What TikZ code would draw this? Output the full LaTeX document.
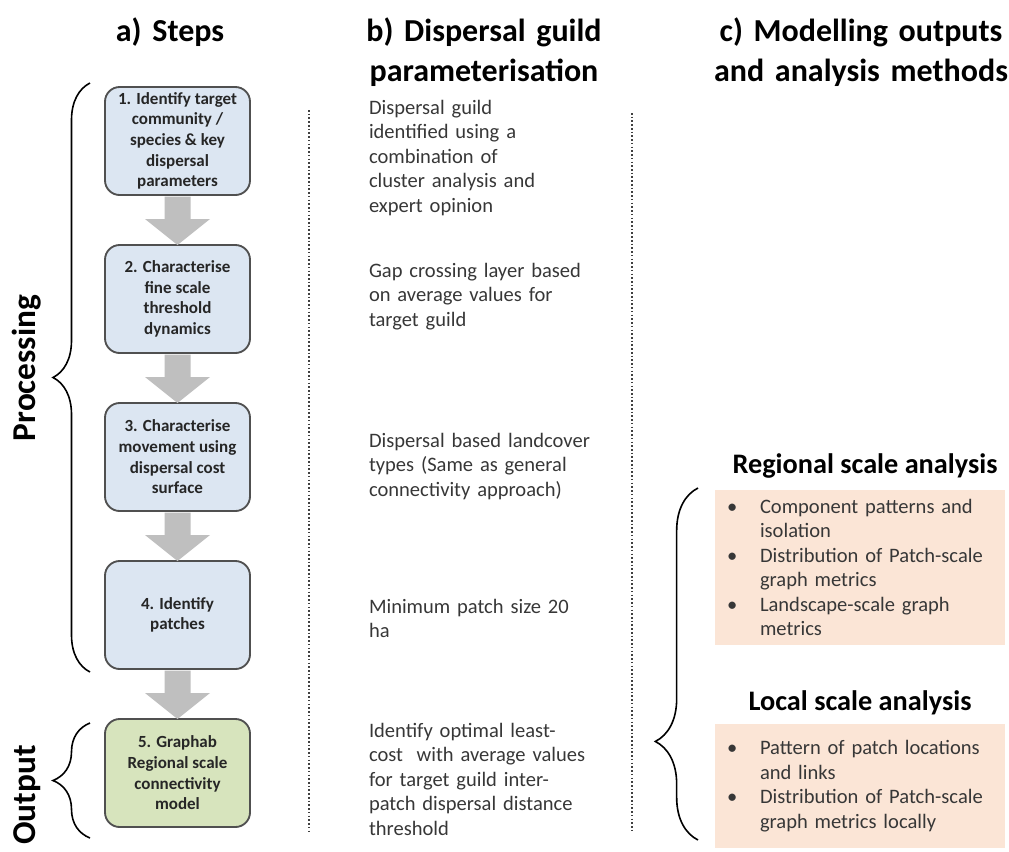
\documentclass[tikz,border=0pt]{standalone}
\usepackage{fontspec}
\setmainfont{Carlito}
\usepackage{tikz}
\usetikzlibrary{calc,decorations.pathreplacing,positioning}
\definecolor{stepblue}{RGB}{220,230,242}
\definecolor{stepgreen}{RGB}{215,228,189}
\definecolor{stepedge}{RGB}{80,80,80}
\definecolor{arrowgrey}{RGB}{191,191,191}
\definecolor{peach}{RGB}{251,229,214}
\definecolor{textgrey}{RGB}{55,55,55}
\newcommand{\bpt}{\makebox[24.75pt][l]{\textbullet}}
\newcommand{\bind}{\hspace*{24.75pt}}

\begin{document}
\begin{tikzpicture}
              [x=0.75pt,y=-0.75pt,
                every node/.style={inner sep=0pt,outer sep=0pt},
                title/.style={font=\fontsize{24}{30}\selectfont\bfseries,align=center,text width=260pt,anchor=base},
                side/.style={font=\fontsize{25}{30}\selectfont\bfseries,rotate=90,anchor=base},
                stepbox/.style={draw=stepedge,line width=1.4pt,rounded corners=11pt,fill=stepblue,
                  minimum width=108.75pt,minimum height=81pt,align=center,
                  font=\fontsize{12.75}{15.5}\selectfont\bfseries,text=black!85},
                word/.style={font=\fontsize{15.4}{18.4}\selectfont,align=left,text width=170pt,anchor=base west,text=textgrey},
                head/.style={font=\fontsize{21.2}{25}\selectfont\bfseries,anchor=base},
                listbox/.style={fill=peach,anchor=north west,minimum width=217.5pt,inner xsep=9pt,
                  text width=199.5pt,align=left,font=\fontsize{15.4}{18.4}\selectfont,text=textgrey},
                blockarrow/.style={fill=arrowgrey},
                sep/.style={draw=black!75,line width=1pt,dash pattern=on 1.2pt off 1.6pt},
                grouping/.style={decorate,line width=1.2pt}]
              \useasboundingbox (0,0) rectangle (1009,851);
              \node[title] (ta) at (170,41) {a) Steps};
              \node[title] (tb) at (484,41) {b) Dispersal guild\\parameterisation};
              \node[title] (tc) at (861,41) {c) Modelling outputs\\and analysis methods};
              \node[stepbox] (n1) at (177.5,141) {1. Identify target\\community /\\species \& key\\dispersal\\parameters};
              \node[stepbox,below=37.5pt of n1] (n2) {2. Characterise\\fine scale\\threshold\\dynamics};
              \node[stepbox,below=37.5pt of n2] (n3) {3. Characterise\\movement using\\dispersal cost\\surface};
              \node[stepbox,below=37.5pt of n3] (n4) {4. Identify\\patches};
              \node[stepbox,fill=stepgreen,below=37.5pt of n4] (n5) {5. Graphab\\Regional scale\\connectivity\\model};
              \foreach \a/\b in {n1/n2,n2/n3,n3/n4,n4/n5}
                \fill[blockarrow] ($(\a.south)+(-13,1.5)$) -- ($(\a.south)+(-13,24)$) -- ($(\a.south)+(-32.5,24)$) -- (\b.north)
                  -- ($(\a.south)+(32.5,24)$) -- ($(\a.south)+(13,24)$) -- ($(\a.south)+(13,1.5)$) -- cycle;
              \draw[grouping,decoration={brace,amplitude=27.75pt}] (90,672) -- (90,83);
              \draw[grouping,decoration={brace,amplitude=27.75pt}] (90,838) -- (90,723);
              \node[side] (p) at (35,368) {Processing};
              \node[side] (o) at (35,795) {Output};
              \draw[sep] (309,110) -- (309,833);
              \draw[sep] (632,113) -- (632,833);
              \node[word] (g1) at (369,114) {Dispersal guild\\identified using a\\combination of\\cluster analysis and\\expert opinion};
              \node[word] (g2) at (369,277) {Gap crossing layer based\\on average values for\\target guild};
              \node[word] (g3) at (369,447) {Dispersal based landcover\\types (Same as general\\connectivity approach)};
              \node[word] (g4) at (369,613) {Minimum patch size 20\\ha};
              \node[word] (g5) at (369,737) {Identify optimal least-\\cost\ \ with average values\\for target guild inter-\\patch dispersal distance\\threshold};
              \node[head] (h1) at (865,473) {Regional scale analysis};
              \node[listbox,minimum height=116.25pt] (r1) at (715,490) {\bpt Component patterns and\\\bind isolation\\\bpt Distribution of Patch-scale\\\bind graph metrics\\\bpt Landscape-scale graph\\\bind metrics};
              \node[head] (h2) at (860,710) {Local scale analysis};
              \node[listbox,minimum height=93pt] (r2) at (715,724) {\bpt Pattern of patch locations\\\bind and links\\\bpt Distribution of Patch-scale\\\bind graph metrics locally};
              \draw[grouping,decoration={brace,amplitude=32pt,aspect=0.28}] (698,840) -- (698,488);
            \end{tikzpicture}
\end{document}
